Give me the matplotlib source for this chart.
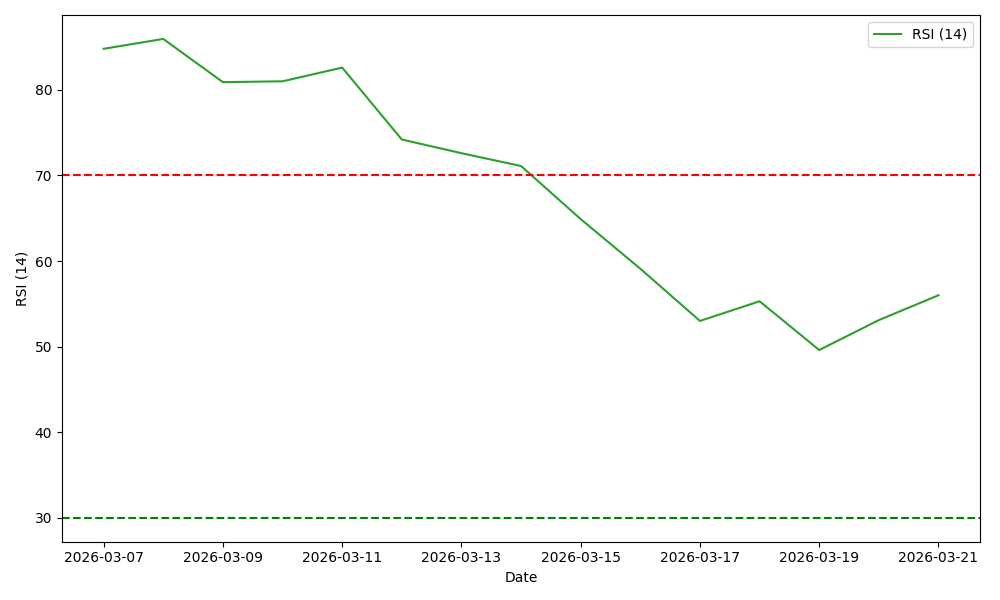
import pandas as pd
import matplotlib.pyplot as plt

dates = pd.date_range("2026-03-07", "2026-03-21", freq="D")
rsi_values = [84.8, 85.95, 80.9, 81.0, 82.6, 74.2, 72.6, 71.1, 64.9, 59.1,
              53.0, 55.3, 49.6, 53.1, 56.0]

overbought = 70
oversold = 30

fig, ax = plt.subplots(figsize=(10, 6), dpi=100)
ax.plot(dates, rsi_values, color="tab:green", label="RSI (14)")
ax.axhline(overbought, color="red", linestyle="--")
ax.axhline(oversold, color="green", linestyle="--")
ax.set_xlabel("Date")
ax.set_ylabel("RSI (14)")
ax.legend()
plt.tight_layout()
plt.savefig("out.png")
